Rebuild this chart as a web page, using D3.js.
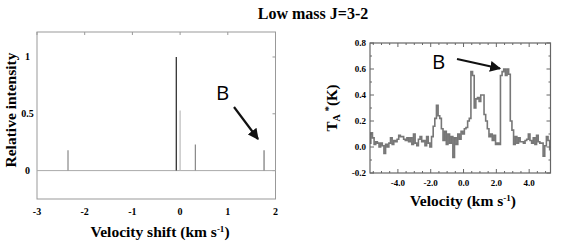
<!DOCTYPE html>
<html><head><meta charset="utf-8">
<script src="https://cdn.jsdelivr.net/npm/d3@7/dist/d3.min.js"></script>
<style>body{margin:0;background:#fff}svg{display:block}</style>
</head><body>
<svg id="c" width="567" height="249"></svg>
<script>
// Left panel: hyperfine components
const hfVel = [-2.35, -0.08, 0.0, 0.32, 1.76];
const hfInt = [0.18, 1.0, 0.53, 0.23, 0.18];
const hfColor = ["#888", "#222", "#bbb", "#888", "#777"];
const leftXTicks = [-3, -2, -1, 0, 1, 2];
const leftYTicks = [0, 0.5, 1];
// Right panel: observed spectrum
const specVel = [-5.7,-5.6,-5.5,-5.4,-5.3,-5.2,-5.1,-5.0,-4.9,-4.8,-4.7,-4.6,-4.5,-4.4,-4.3,-4.2,-4.1,-4.0,-3.9,-3.8,-3.7,-3.6,-3.5,-3.4,-3.3,-3.2,-3.1,-3.0,-2.9,-2.8,-2.7,-2.6,-2.5,-2.4,-2.3,-2.2,-2.1,-2.0,-1.9,-1.8,-1.7,-1.6,-1.5,-1.4,-1.3,-1.2,-1.1,-1.0,-0.9,-0.8,-0.7,-0.6,-0.5,-0.4,-0.3,-0.2,-0.1,0.0,0.1,0.2,0.3,0.4,0.5,0.6,0.7,0.8,0.9,1.0,1.1,1.2,1.3,1.4,1.5,1.6,1.7,1.8,1.9,2.0,2.1,2.2,2.3,2.4,2.5,2.6,2.7,2.8,2.9,3.0,3.1,3.2,3.3,3.4,3.5,3.6,3.7,3.8,3.9,4.0,4.1,4.2,4.3,4.4,4.5,4.6,4.7,4.8,4.9,5.0,5.1,5.2,5.3];
const specT = [0.03,0.11,0.07,0.02,0.04,0.03,0.00,0.03,0.01,-0.05,0.02,0.00,0.03,0.07,0.02,0.05,0.04,0.06,0.09,0.08,0.08,0.06,0.05,0.07,0.04,0.07,0.02,0.10,0.03,0.01,0.06,0.08,0.04,0.05,0.01,0.08,0.03,0.00,0.08,0.16,0.22,0.32,0.24,0.22,0.14,0.05,0.12,0.02,0.10,0.03,0.08,-0.08,0.07,0.02,0.10,0.06,0.12,0.10,0.14,0.15,0.20,0.22,0.58,0.55,0.30,0.37,0.38,0.35,0.40,0.40,0.25,0.20,0.14,0.08,0.10,0.05,0.09,0.02,0.03,0.02,0.55,0.58,0.60,0.55,0.60,0.56,0.20,0.13,0.02,0.08,0.03,0.07,0.04,0.04,0.03,0.05,0.06,0.10,0.05,0.03,0.07,0.02,0.09,0.04,0.03,0.03,-0.07,0.01,0.08,0.05,-0.02];
const rightXTicks = [-4, -2, 0, 2, 4];
const rightYTicks = [-0.2, 0, 0.2, 0.4, 0.6, 0.8];

const svg = d3.select("#c");
const serif = "'Liberation Serif','Times New Roman',serif";
const sans = "'Open Sans','DejaVu Sans',sans-serif";

svg.append("defs").append("marker").attr("id","ah").attr("viewBox","0 0 10 10")
  .attr("refX",9).attr("refY",5).attr("markerWidth",5).attr("markerHeight",5)
  .attr("orient","auto").append("path").attr("d","M0,0L10,5L0,10z").attr("fill","#111");

// Title
svg.append("text").attr("x",313).attr("y",19).attr("text-anchor","middle")
  .attr("font-family",serif).attr("font-weight","bold").attr("font-size",16).text("Low mass J=3-2");

// ---------- Left panel ----------
const xL = d3.scaleLinear().domain([-3,2]).range([37,275.5]);
const yL = d3.scaleLinear().domain([-0.25,1.22]).range([199,32]);
const gL = svg.append("g");
gL.append("rect").attr("x",xL(-3)).attr("y",yL(1.22)).attr("width",xL(2)-xL(-3)).attr("height",yL(-0.25)-yL(1.22))
  .attr("fill","none").attr("stroke","#999").attr("stroke-width",1);
gL.selectAll(".tt").data(leftXTicks).join("line").attr("class","tt")
  .attr("x1",d=>xL(d)).attr("x2",d=>xL(d)).attr("y1",yL(1.22)).attr("y2",yL(1.22)+3).attr("stroke","#999");
gL.selectAll(".rt").data(leftYTicks).join("line").attr("class","rt")
  .attr("x1",xL(2)).attr("x2",xL(2)-3).attr("y1",d=>yL(d)).attr("y2",d=>yL(d)).attr("stroke","#999");
gL.selectAll(".xl").data(leftXTicks).join("text").attr("class","xl")
  .attr("x",d=>xL(d)).attr("y",215).attr("text-anchor","middle").attr("font-family",serif)
  .attr("font-weight","bold").attr("font-size",10).text(d=>d);
gL.selectAll(".yl").data(leftYTicks).join("text").attr("class","yl")
  .attr("x",27.5).attr("y",d=>yL(d)+3.5).attr("text-anchor","middle").attr("font-family",serif)
  .attr("font-weight","bold").attr("font-size",10).text(d=>d);
// zero line
gL.append("line").attr("x1",xL(-3)).attr("x2",xL(2)).attr("y1",yL(0)).attr("y2",yL(0)).attr("stroke","#aaa").attr("stroke-width",1);
// spikes
gL.selectAll(".sp").data(hfVel).join("line").attr("class","sp")
  .attr("x1",d=>xL(d)).attr("x2",d=>xL(d)).attr("y1",yL(0)).attr("y2",(d,i)=>yL(hfInt[i]))
  .attr("stroke",(d,i)=>hfColor[i]).attr("stroke-width",1.2);
// axis titles
svg.append("text").attr("x",160).attr("y",237).attr("text-anchor","middle").attr("font-family",serif)
  .attr("font-weight","bold").attr("font-size",15.5)
  .call(t=>{t.append("tspan").text("Velocity shift (km s");
            t.append("tspan").attr("dy",-5).attr("font-size",9).text("-1");
            t.append("tspan").attr("dy",5).text(")");});
svg.append("text").attr("transform","translate(16,110) rotate(-90)").attr("text-anchor","middle")
  .attr("font-family",serif).attr("font-weight","bold").attr("font-size",15.5).text("Relative intensity");
// B annotation
svg.append("text").attr("x",216).attr("y",99.5).attr("font-family",sans).attr("font-size",20.5).text("B");
svg.append("line").attr("x1",234).attr("y1",107).attr("x2",258).attr("y2",139)
  .attr("stroke","#111").attr("stroke-width",2.2).attr("marker-end","url(#ah)");

// ---------- Right panel ----------
const xR = d3.scaleLinear().domain([-5.7,5.3]).range([370,550.5]);
const yR = d3.scaleLinear().domain([-0.2,0.8]).range([173,43]);
const gR = svg.append("g");
const line = d3.line().x((d,i)=>xR(specVel[i])).y(d=>yR(d)).curve(d3.curveStep);
gR.append("path").datum(specT).attr("d",line).attr("fill","none").attr("stroke","#777").attr("stroke-width",1.6);
gR.append("rect").attr("x",xR(-5.7)).attr("y",yR(0.8)).attr("width",xR(5.3)-xR(-5.7)).attr("height",yR(-0.2)-yR(0.8))
  .attr("fill","none").attr("stroke","#666").attr("stroke-width",1.2);
const tk = gR.append("g").attr("stroke","#666").attr("stroke-width",1);
const xMinor = d3.range(-11,11).map(k=>k*0.5).filter(v=>v>-5.7&&v<5.3);
const yMinor = d3.range(-2,9).map(k=>k/10);
xMinor.forEach(v=>{
  const L = rightXTicks.includes(v)?4:2;
  tk.append("line").attr("x1",xR(v)).attr("x2",xR(v)).attr("y1",yR(-0.2)).attr("y2",yR(-0.2)-L);
  tk.append("line").attr("x1",xR(v)).attr("x2",xR(v)).attr("y1",yR(0.8)).attr("y2",yR(0.8)+L);
});
yMinor.forEach((v,i)=>{
  const L = i%2===0?4:2;
  tk.append("line").attr("x1",xR(-5.7)).attr("x2",xR(-5.7)+L).attr("y1",yR(v)).attr("y2",yR(v));
  tk.append("line").attr("x1",xR(5.3)).attr("x2",xR(5.3)-L).attr("y1",yR(v)).attr("y2",yR(v));
});
gR.selectAll(".xl").data(rightXTicks).join("text").attr("class","xl")
  .attr("x",d=>xR(d)).attr("y",186).attr("text-anchor","middle").attr("font-family",serif)
  .attr("font-weight","bold").attr("font-size",9).text(d=>d3.format(".1f")(d).replace("−","-"));
gR.selectAll(".yl").data(rightYTicks).join("text").attr("class","yl")
  .attr("x",366).attr("y",d=>yR(d)+3).attr("text-anchor","end").attr("font-family",serif)
  .attr("font-weight","bold").attr("font-size",9).text(d=>d3.format(".1f")(d).replace("−","-"));
svg.append("text").attr("x",463).attr("y",206).attr("text-anchor","middle").attr("font-family",serif)
  .attr("font-weight","bold").attr("font-size",15.5)
  .call(t=>{t.append("tspan").text("Velocity (km s");
            t.append("tspan").attr("dy",-5).attr("font-size",9).text("-1");
            t.append("tspan").attr("dy",5).text(")");});
svg.append("text").attr("transform","translate(337,108) rotate(-90)").attr("text-anchor","middle")
  .attr("font-family",serif).attr("font-weight","bold").attr("font-size",15)
  .call(t=>{t.append("tspan").text("T");
            t.append("tspan").attr("dy",3).attr("font-size",10).text("A");
            t.append("tspan").attr("dy",-8).attr("font-size",11).text(" *");
            t.append("tspan").attr("dy",5).text("(K)");});
svg.append("text").attr("x",432).attr("y",68.5).attr("font-family",sans).attr("font-size",20.5).text("B");
svg.append("line").attr("x1",457).attr("y1",59).attr("x2",500).attr("y2",68.5)
  .attr("stroke","#111").attr("stroke-width",2.2).attr("marker-end","url(#ah)");
</script>
</body></html>
